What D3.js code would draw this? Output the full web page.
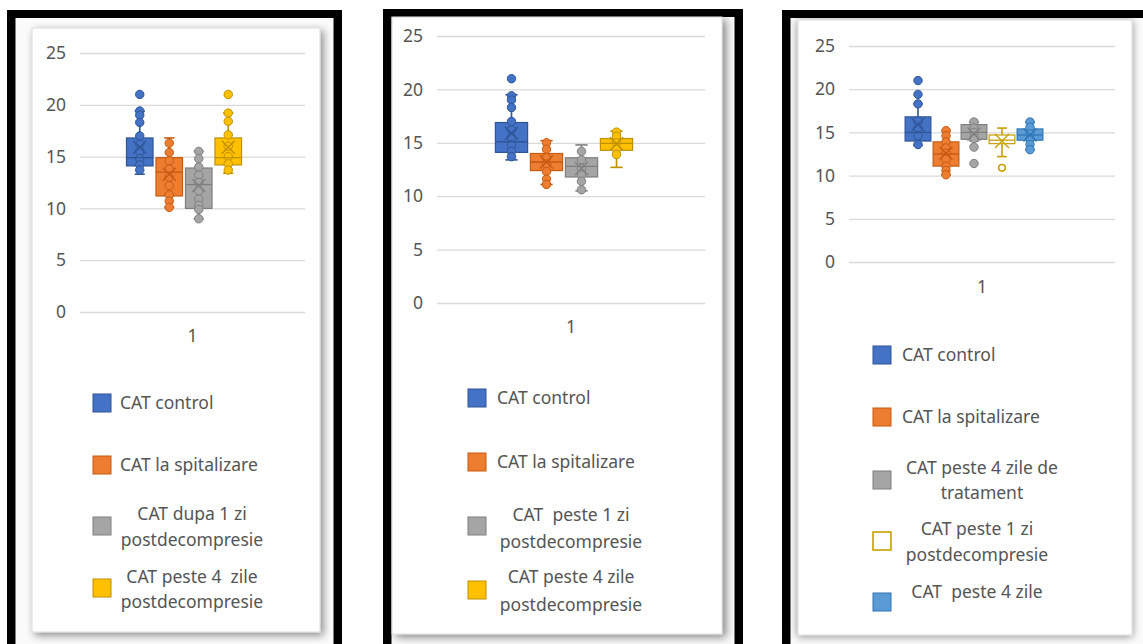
<!DOCTYPE html>
<html>
<head>
<meta charset="utf-8">
<script src="https://cdn.jsdelivr.net/npm/d3@7"></script>
<style>
  html, body { margin: 0; padding: 0; background: #ffffff; }
  svg { display: block; font-family: "Noto Sans", "Open Sans", sans-serif; }
  .lbl { white-space: pre; }
</style>
</head>
<body>
<svg id="chart" width="1143" height="644"></svg>
<script>
// ---------- Y axis ticks (shared by all three panels) ----------
const yTicks = [0, 5, 10, 15, 20, 25];
const categoryLabels = ["1"];

// ---------- Panel A ----------
const legendA = [["CAT control"], ["CAT la spitalizare"], ["CAT dupa 1 zi", "postdecompresie"], ["CAT peste 4  zile", "postdecompresie"]];
const q1A   = [14.1, 11.2, 10.0, 14.2];
const medA  = [14.9, 13.5, 12.3, 14.9];
const q3A   = [16.8, 14.9, 13.9, 16.8];
const loA   = [13.3, 10.1,  9.0, 13.4];
const hiA   = [19.4, 16.8, 15.5, 19.2];
const meanA = [15.9, 13.3, 12.2, 15.9];
const ptsA  = [
  [21.0, 19.4, 19.0, 18.3, 17.0, 16.2, 15.5, 14.8, 14.2, 13.7],
  [16.3, 15.4, 14.6, 13.8, 13.0, 12.2, 11.3, 10.7, 10.1],
  [15.5, 14.8, 14.0, 13.2, 12.5, 11.7, 10.9, 10.3, 9.9, 9.0],
  [21.0, 19.2, 18.4, 17.1, 16.0, 15.0, 14.3, 13.7]
];

// ---------- Panel B ----------
const legendB = [["CAT control"], ["CAT la spitalizare"], ["CAT  peste 1 zi", "postdecompresie"], ["CAT peste 4 zile", "postdecompresie"]];
const q1B   = [14.1, 12.4, 11.8, 14.3];
const medB  = [15.1, 13.2, 12.8, 14.95];
const q3B   = [16.9, 14.0, 13.6, 15.4];
const loB   = [13.4, 11.1, 10.5, 12.7];
const hiB   = [19.5, 15.2, 14.8, 16.1];
const meanB = [15.9, 13.2, 12.6, 14.9];
const ptsB  = [
  [21.0, 19.4, 19.0, 18.3, 17.0, 16.2, 15.5, 14.8, 14.2, 13.7],
  [15.0, 14.4, 13.6, 13.0, 12.3, 11.6, 11.1],
  [14.2, 13.4, 12.6, 12.0, 11.4, 10.6],
  [16.0, 15.6, 15.0, 14.4, 13.9]
];

// ---------- Panel C ----------
const legendC = [["CAT control"], ["CAT la spitalizare"], ["CAT peste 4 zile de", "tratament"], ["CAT peste 1 zi", "postdecompresie"], ["CAT  peste 4 zile"]];
const q1C   = [14.0, 11.1, 14.2, 13.7, 14.1];
const medC  = [15.0, 12.5, 15.0, 14.1, 14.7];
const q3C   = [16.8, 13.9, 15.9, 14.7, 15.4];
const loC   = [13.5, 10.1, 14.0, 12.2, 13.0];
const hiC   = [18.3, 15.2, 16.2, 15.5, 16.2];
const meanC = [15.9, 12.6, 14.8, 14.0, 14.7];
const ptsC  = [
  [21.0, 19.4, 18.3, 16.3, 15.5, 14.6, 13.6],
  [15.2, 14.6, 13.9, 13.2, 12.6, 11.9, 11.1, 10.6, 10.1],
  [16.2, 15.5, 15.0, 14.3, 13.3, 11.4],
  [10.9],
  [16.2, 15.6, 14.8, 14.2, 13.6, 13.0]
];

// ---------- Series styling ----------
const fillsAB   = ["#4472C4", "#ED7D31", "#A5A5A5", "#FFC000"];
const strokesAB = ["#2F5597", "#C55A11", "#7F7F7F", "#BF9000"];
const fillsC    = ["#4472C4", "#ED7D31", "#A5A5A5", "none", "#5B9BD5"];
const strokesC  = ["#2F5597", "#C55A11", "#7F7F7F", "#C9A000", "#2E75B6"];

// ---------- Panel geometry ----------
const layouts = [
  {
    frame: [7, 10, 335, 645], chart: [32, 28, 288, 604], shadow: [3, 3],
    plot: { x0: 80, x1: 305, yZero: 312, yTop: 53 }, band: [125, 243], boxFrac: 0.9,
    legend: { sqX: 93, textX: 120, midX: 192,
      rows: [{ sq: 403, lines: [403] }, { sq: 465, lines: [465] }, { sq: 526, lines: [514, 540] }, { sq: 588, lines: [577, 602] }] },
    labelY: 342
  },
  {
    frame: [383, 9, 360, 645], chart: [392, 17, 330, 617], shadow: [4, 3],
    plot: { x0: 437, x1: 705, yZero: 303, yTop: 36 }, band: [494, 634], boxFrac: 0.92,
    legend: { sqX: 468, textX: 497, midX: 571,
      rows: [{ sq: 398, lines: [398] }, { sq: 462, lines: [462] }, { sq: 526, lines: [515, 542] }, { sq: 590, lines: [577, 605] }] },
    labelY: 333
  },
  {
    frame: [782, 10, 370, 645], chart: [798, 20, 334, 615], shadow: [0, 1],
    plot: { x0: 849, x1: 1115, yZero: 262, yTop: 46 }, band: [904, 1044], boxFrac: 0.92,
    legend: { sqX: 873, textX: 902, midX: 979,
      rows: [{ sq: 355, lines: [355] }, { sq: 417, lines: [417] }, { sq: 480, lines: [468, 493], mid: 982 },
             { sq: 541, lines: [529, 555], mid: 977 }, { sq: 602, lines: [592], mid: 977 }] },
    labelY: 293
  }
];

const panels = [
  { legend: legendA, q1: q1A, med: medA, q3: q3A, lo: loA, hi: hiA, mean: meanA, pts: ptsA, fills: fillsAB, strokes: strokesAB },
  { legend: legendB, q1: q1B, med: medB, q3: q3B, lo: loB, hi: hiB, mean: meanB, pts: ptsB, fills: fillsAB, strokes: strokesAB },
  { legend: legendC, q1: q1C, med: medC, q3: q3C, lo: loC, hi: hiC, mean: meanC, pts: ptsC, fills: fillsC, strokes: strokesC }
];

const svg = d3.select("#chart");
const defs = svg.append("defs");
layouts.forEach((L, i) => {
  defs.append("filter").attr("id", "shade" + i)
    .attr("x", "-10%").attr("y", "-10%").attr("width", "120%").attr("height", "120%")
    .append("feDropShadow")
    .attr("dx", L.shadow[0]).attr("dy", L.shadow[1]).attr("stdDeviation", 4)
    .attr("flood-color", "#000").attr("flood-opacity", 0.45);
});

const textColor = "#555555";
const fontSize = 17.5;

function drawPanel(L, P, idx) {
  const g = svg.append("g");

  // black frame and inner white area
  const [fx, fy, fw, fh] = L.frame;
  g.append("rect").attr("x", fx).attr("y", fy).attr("width", fw).attr("height", fh).attr("fill", "#000");
  g.append("rect").attr("x", fx + 8.5).attr("y", fy + 8).attr("width", fw - 17).attr("height", fh - 15).attr("fill", "#fbfbfb");

  // chart area with its soft shadow
  const [cx, cy, cw, ch] = L.chart;
  g.append("rect").attr("x", cx).attr("y", cy).attr("width", cw).attr("height", ch)
    .attr("fill", "#fff").attr("stroke", "#d9d9d9").attr("stroke-width", 1)
    .attr("filter", `url(#shade${idx})`);

  const y = d3.scaleLinear().domain([0, 25]).range([L.plot.yZero, L.plot.yTop]);
  const xCat = d3.scaleBand().domain(categoryLabels).range([L.plot.x0, L.plot.x1]);
  const n = P.q1.length;
  const xs = d3.scaleBand().domain(d3.range(n)).range(L.band).paddingInner(0);
  const bw = xs.bandwidth() * L.boxFrac;

  // gridlines
  g.append("g").attr("transform", `translate(${L.plot.x0},0)`)
    .call(d3.axisLeft(y).tickValues(yTicks).tickSize(-(L.plot.x1 - L.plot.x0)).tickFormat(""))
    .call(s => s.select(".domain").remove())
    .call(s => s.selectAll("line").attr("stroke", "#d9d9d9").attr("stroke-width", 1.3));

  // y tick labels
  g.append("g").attr("transform", `translate(${L.plot.x0 - 14},0)`)
    .call(d3.axisLeft(y).tickValues(yTicks).tickSize(0).tickPadding(0))
    .call(s => s.select(".domain").remove())
    .call(s => s.selectAll("text").attr("fill", textColor).attr("font-size", fontSize)
      .attr("font-family", "'Noto Sans', sans-serif"));

  // category label
  g.append("g").attr("transform", `translate(0,${L.labelY - 12})`)
    .call(d3.axisBottom(xCat).tickSize(0).tickPadding(0))
    .call(s => s.select(".domain").remove())
    .call(s => s.selectAll("text").attr("fill", textColor).attr("font-size", fontSize)
      .attr("font-family", "'Noto Sans', sans-serif").attr("dy", "0.71em"));

  // boxes, whiskers, points and mean markers
  for (let i = 0; i < n; i++) {
    const cxm = xs(i) + xs.bandwidth() / 2;
    const fill = P.fills[i], stroke = P.strokes[i];
    const hollow = fill === "none";
    const sg = g.append("g");
    const capW = bw * 0.38;

    // whiskers
    sg.append("line").attr("x1", cxm).attr("x2", cxm).attr("y1", y(P.hi[i])).attr("y2", y(P.q3[i]))
      .attr("stroke", stroke).attr("stroke-width", 1.6);
    sg.append("line").attr("x1", cxm).attr("x2", cxm).attr("y1", y(P.q1[i])).attr("y2", y(P.lo[i]))
      .attr("stroke", stroke).attr("stroke-width", 1.6);
    [P.hi[i], P.lo[i]].forEach(v => {
      sg.append("line").attr("x1", cxm - capW / 2).attr("x2", cxm + capW / 2).attr("y1", y(v)).attr("y2", y(v))
        .attr("stroke", stroke).attr("stroke-width", 1.6);
    });

    // box
    sg.append("rect").attr("x", cxm - bw / 2).attr("y", y(P.q3[i]))
      .attr("width", bw).attr("height", y(P.q1[i]) - y(P.q3[i]))
      .attr("fill", hollow ? "#fff" : fill).attr("stroke", stroke).attr("stroke-width", 1.2);

    // data points
    P.pts[i].forEach(v => {
      sg.append("circle").attr("cx", cxm).attr("cy", y(v)).attr("r", hollow ? 3.3 : 4.2)
        .attr("fill", hollow ? "#fff" : fill).attr("stroke", stroke).attr("stroke-width", hollow ? 1.6 : 1);
    });

    // median
    sg.append("line").attr("x1", cxm - bw / 2).attr("x2", cxm + bw / 2)
      .attr("y1", y(P.med[i])).attr("y2", y(P.med[i])).attr("stroke", stroke).attr("stroke-width", 1.3);

    // mean marker (x)
    const m = hollow ? 7 : 6.5, my = y(P.mean[i]);
    sg.append("path").attr("d", `M${cxm - m},${my - m}L${cxm + m},${my + m}M${cxm - m},${my + m}L${cxm + m},${my - m}`)
      .attr("stroke", stroke).attr("stroke-width", 1.4).attr("fill", "none");
  }

  // legend
  const lg = g.append("g");
  L.legend.rows.forEach((row, i) => {
    const lines = P.legend[i];
    const hollow = P.fills[i] === "none";
    lg.append("rect").attr("x", L.legend.sqX).attr("y", row.sq - 9).attr("width", 18).attr("height", 18)
      .attr("fill", hollow ? "#fff" : P.fills[i]).attr("stroke", P.strokes[i]).attr("stroke-width", hollow ? 1.6 : 1);
    const single = lines.length === 1 && row.mid === undefined;
    lines.forEach((t, k) => {
      lg.append("text").attr("class", "lbl")
        .attr("x", single ? L.legend.textX : (row.mid !== undefined ? row.mid : L.legend.midX))
        .attr("y", row.lines[k]).attr("dy", "0.36em")
        .attr("text-anchor", single ? "start" : "middle")
        .attr("fill", textColor).attr("font-size", fontSize)
        .text(t);
    });
  });
}

layouts.forEach((L, i) => drawPanel(L, panels[i], i));
</script>
</body>
</html>
